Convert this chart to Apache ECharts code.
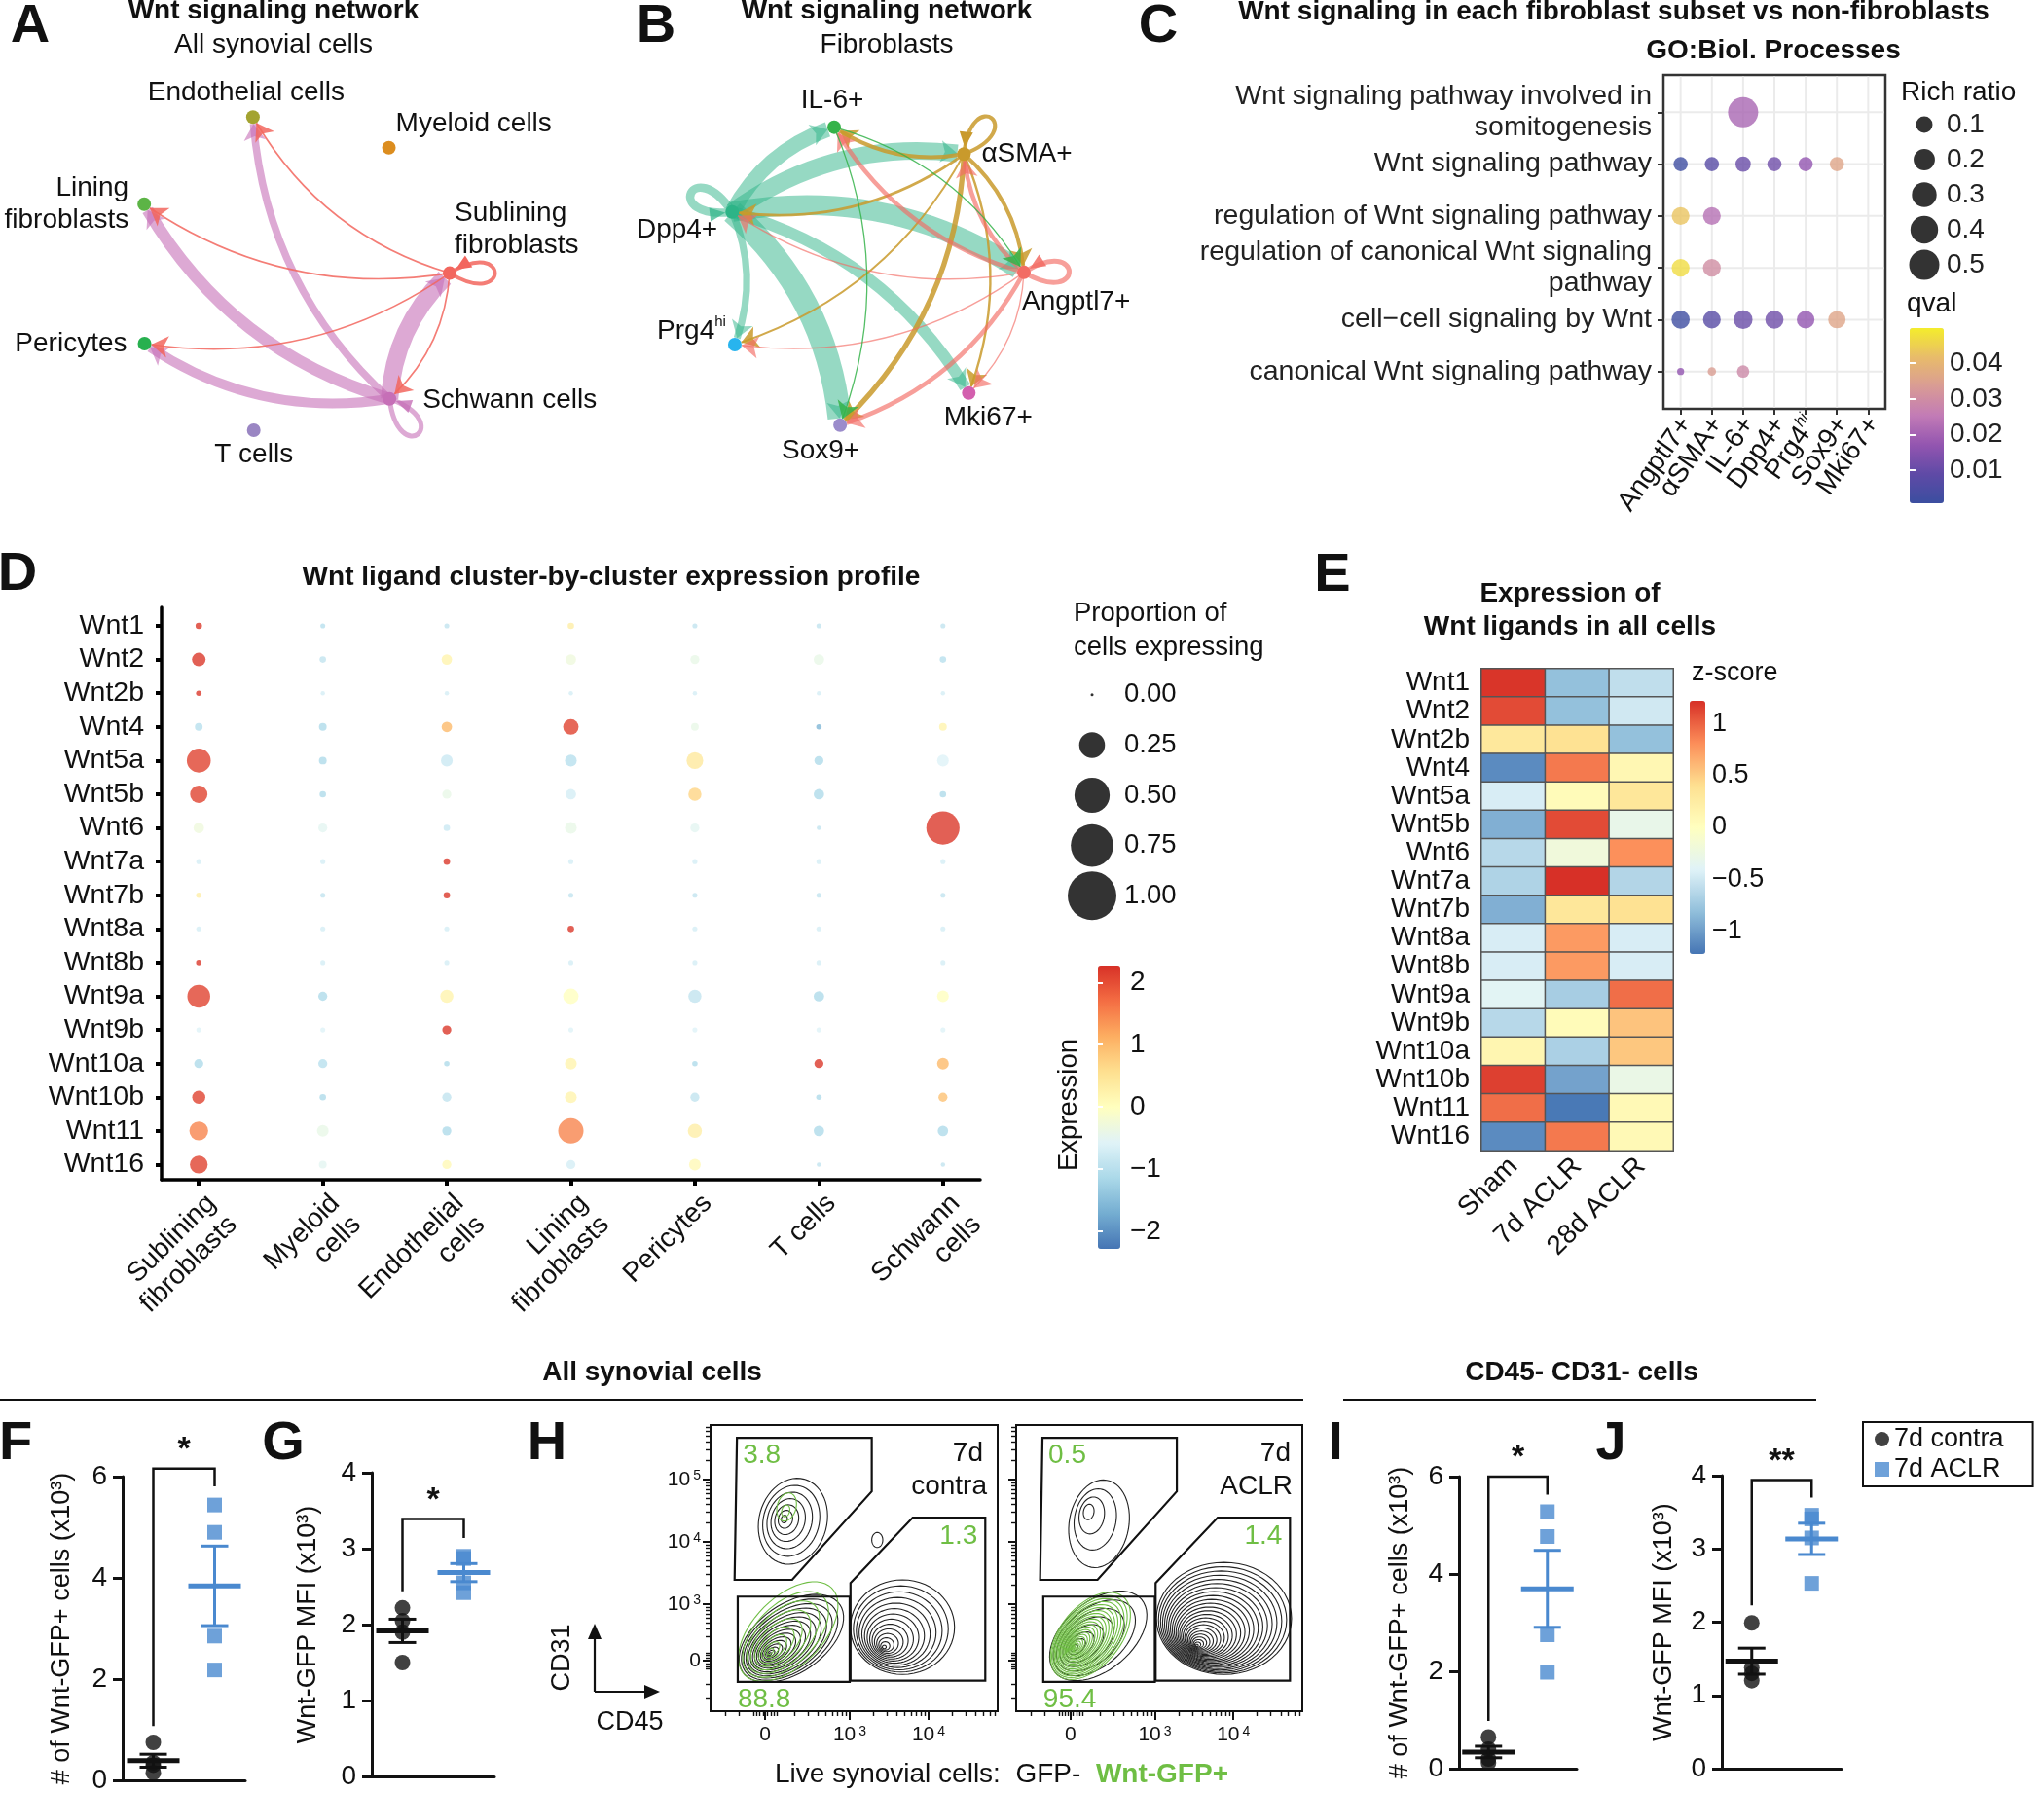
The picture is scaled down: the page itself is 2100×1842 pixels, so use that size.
<!DOCTYPE html>
<html>
<head>
<meta charset="utf-8">
<title>Wnt signaling figure</title>
<script src="https://cdn.jsdelivr.net/npm/echarts@6.0.0/dist/echarts.min.js"></script>
<style>
html,body{margin:0;padding:0;background:#ffffff;}
#chart{width:2100px;height:1842px;}
</style>
</head>
<body>
<div id="chart"></div>
<script>
// ========================= DATA =========================
// ---- Panel A : Wnt network, all synovial cells (source, target, relative strength)
const netA_nodes = ['Endothelial cells','Myeloid cells','Sublining fibroblasts','Schwann cells','T cells','Pericytes','Lining fibroblasts'];
const netA_links = [
  ['Schwann cells','Sublining fibroblasts',1.0],
  ['Schwann cells','Lining fibroblasts',0.68],
  ['Schwann cells','Pericytes',0.56],
  ['Schwann cells','Endothelial cells',0.42],
  ['Sublining fibroblasts','Endothelial cells',0.09],
  ['Sublining fibroblasts','Lining fibroblasts',0.09],
  ['Sublining fibroblasts','Pericytes',0.09],
  ['Sublining fibroblasts','Schwann cells',0.09]
];
const netA_loops = [['Sublining fibroblasts',0.22],['Schwann cells',0.28]];

// ---- Panel B : Wnt network, fibroblast subsets
const netB_nodes = ['IL-6+','αSMA+','Angptl7+','Mki67+','Sox9+','Prg4hi','Dpp4+'];
const netB_links = [
  ['Dpp4+','Sox9+',1.0],['Dpp4+','Angptl7+',0.85],['Dpp4+','αSMA+',0.75],['Dpp4+','IL-6+',0.65],['Dpp4+','Mki67+',0.5],['Dpp4+','Prg4hi',0.3],
  ['αSMA+','Sox9+',0.22],['αSMA+','IL-6+',0.17],['αSMA+','Angptl7+',0.17],['αSMA+','Dpp4+',0.12],['αSMA+','Mki67+',0.1],['αSMA+','Prg4hi',0.08],
  ['Angptl7+','IL-6+',0.19],['Angptl7+','αSMA+',0.19],['Angptl7+','Sox9+',0.19],['Angptl7+','Dpp4+',0.06],['Angptl7+','Prg4hi',0.05],['Angptl7+','Mki67+',0.05],
  ['IL-6+','Sox9+',0.05],['IL-6+','Angptl7+',0.05]
];
const netB_loops = [['Dpp4+',0.36],['αSMA+',0.17],['Angptl7+',0.21]];

// ---- Panel C : GO enrichment dot plot
const goTerms = [
  'Wnt signaling pathway involved in\nsomitogenesis',
  'Wnt signaling pathway',
  'regulation of Wnt signaling pathway',
  'regulation of canonical Wnt signaling\npathway',
  'cell\u2212cell signaling by Wnt',
  'canonical Wnt signaling pathway'
];
const goSubsets = ['Angptl7+','αSMA+','IL-6+','Dpp4+','Prg4hi','Sox9+','Mki67+'];
// [subset, term index, rich ratio, qval]
const goDots = [
  ['IL-6+',0,0.5,0.021],
  ['Angptl7+',1,0.066,0.0015],['αSMA+',1,0.066,0.007],['IL-6+',1,0.08,0.0105],['Dpp4+',1,0.066,0.0115],['Prg4hi',1,0.066,0.017],['Sox9+',1,0.066,0.036],
  ['Angptl7+',2,0.123,0.043],['αSMA+',2,0.123,0.023],
  ['Angptl7+',3,0.123,0.047],['αSMA+',3,0.123,0.030],
  ['Angptl7+',4,0.13,0.0015],['αSMA+',4,0.12,0.007],['IL-6+',4,0.143,0.0105],['Dpp4+',4,0.13,0.0115],['Prg4hi',4,0.12,0.017],['Sox9+',4,0.115,0.036],
  ['Angptl7+',5,0.0196,0.017],['αSMA+',5,0.021,0.034],['IL-6+',5,0.045,0.029]
];
const richLegend = [0.1,0.2,0.3,0.4,0.5];
const qvalTicks = [0.01,0.02,0.03,0.04];

// ---- Panel D : Wnt ligand dot plot (proportion expressing, scaled expression)
const wntGenes = ['Wnt1','Wnt2','Wnt2b','Wnt4','Wnt5a','Wnt5b','Wnt6','Wnt7a','Wnt7b','Wnt8a','Wnt8b','Wnt9a','Wnt9b','Wnt10a','Wnt10b','Wnt11','Wnt16'];
const dClusters = ['Sublining\nfibroblasts','Myeloid\ncells','Endothelial\ncells','Lining\nfibroblasts','Pericytes','T cells','Schwann\ncells'];
const dPct = [
  [0.006,0.002,0.002,0.006,0.002,0.002,0.002],
  [0.055,0.006,0.027,0.027,0.018,0.027,0.006],
  [0.003,0.001,0.001,0.001,0.001,0.001,0.001],
  [0.011,0.011,0.027,0.075,0.011,0.003,0.011],
  [0.21,0.011,0.037,0.037,0.09,0.018,0.037],
  [0.10,0.006,0.018,0.027,0.05,0.027,0.006],
  [0.027,0.018,0.006,0.037,0.018,0.001,0.44],
  [0.002,0.002,0.006,0.002,0.002,0.002,0.002],
  [0.003,0.002,0.006,0.002,0.002,0.002,0.002],
  [0.002,0.002,0.002,0.006,0.002,0.002,0.002],
  [0.003,0.002,0.002,0.002,0.002,0.002,0.002],
  [0.19,0.018,0.05,0.075,0.05,0.027,0.037],
  [0.002,0.002,0.018,0.002,0.002,0.002,0.002],
  [0.018,0.018,0.003,0.037,0.003,0.018,0.037],
  [0.05,0.006,0.018,0.037,0.018,0.003,0.018],
  [0.12,0.037,0.018,0.24,0.06,0.027,0.027],
  [0.105,0.011,0.018,0.018,0.037,0.001,0.001]
];
const dExpr = [
  [2.2,-1.0,-0.9,0.3,-0.9,-0.9,-0.9],
  [2.2,-0.9,0.2,-0.3,-0.4,-0.4,-1.0],
  [2.2,-0.7,-0.7,-0.7,-0.7,-0.7,-0.7],
  [-1.0,-1.1,1.0,2.1,-0.4,-1.6,0.2],
  [2.1,-1.1,-0.8,-1.0,0.4,-1.1,-0.6],
  [2.1,-1.1,-0.4,-0.7,0.7,-1.1,-1.1],
  [-0.3,-0.5,-0.8,-0.4,-0.5,-0.9,2.2],
  [-0.7,-0.7,2.2,-0.7,-0.7,-0.7,-0.7],
  [0.3,-0.9,2.2,-0.9,-0.9,-0.9,-0.9],
  [-0.7,-0.7,-0.7,2.2,-0.7,-0.7,-0.7],
  [2.2,-0.7,-0.7,-0.7,-0.7,-0.7,-0.7],
  [2.1,-1.1,0.2,0.0,-0.9,-1.1,0.0],
  [-0.6,-0.6,2.2,-0.6,-0.6,-0.6,-0.6],
  [-1.1,-1.0,-1.1,0.2,-1.1,2.2,1.0],
  [2.1,-1.1,-0.9,0.2,-0.9,-1.1,0.9],
  [1.5,-0.4,-1.1,1.5,0.3,-1.1,-1.1],
  [2.1,-0.5,0.1,-0.7,0.1,-0.9,-0.9]
];
const pctLegend = [0, 0.25, 0.5, 0.75, 1];
const exprTicks = [-2,-1,0,1,2];

// ---- Panel E : z-score heatmap
const eConds = ['Sham','7d ACLR','28d ACLR'];
const eZ = [
  [1.2,-0.8,-0.57],
  [1.1,-0.8,-0.49],
  [0.3,0.38,-0.8],
  [-1.1,0.9,0.1],
  [-0.45,0.05,0.32],
  [-0.9,1.1,-0.3],
  [-0.62,-0.2,0.8],
  [-0.66,1.22,-0.64],
  [-0.9,0.32,0.38],
  [-0.45,0.75,-0.45],
  [-0.45,0.75,-0.45],
  [-0.38,-0.7,0.95],
  [-0.62,0.05,0.55],
  [0.12,-0.68,0.53],
  [1.15,-0.97,-0.28],
  [0.95,-1.2,0.08],
  [-1.1,0.9,0.08]
];
const zTicks = [-1,-0.5,0,0.5,1];

// ---- Panels F, G, I, J : per-mouse values
const groups = ['7d contra','7d ACLR'];
const fContra = [0.75,0.35,0.3,0.15], fAclr = [5.44,4.9,2.85,2.18];
const gContra = [2.22,2.05,1.9,1.5],  gAclr = [2.9,2.87,2.55,2.42];
const iContra = [0.65,0.4,0.2,0.12],  iAclr = [5.28,4.77,2.75,1.98];
const jContra = [1.99,1.38,1.3,1.2],  jAclr = [3.46,3.41,3.15,2.53];
// significance brackets: [left foot, top, right foot]
const sigF = [1.07,6.16,5.81], sigG = [2.44,3.39,3.14], sigI = [0.98,6.0,5.63], sigJ = [2.23,3.94,3.7];
const starsF = '*', starsG = '*', starsI = '*', starsJ = '**';

// ---- Panel H : flow cytometry (axis units: decades, 0 on the biexponential scale)
const flowXRange = [1.235, 4.877];
const flowYRange = [1.28, 5.875];
const flowXTicks = [1.926, 3, 4];
const flowXTickText = ['0', '10{s|3}', '10{s|4}'];
const flowYTicks = [2.094, 3, 4, 5];
const flowYTickText = ['0', '10{s|3}', '10{s|4}', '10{s|5}'];
const gateUpper = [[1.57,5.67],[3.28,5.67],[3.28,4.81],[2.27,3.39],[1.54,3.39]];
const gateRight = [[3.01,3.34],[3.80,4.39],[4.72,4.39],[4.72,1.77],[3.01,1.77]];
const gateLower = [[1.58,3.12],[3.0,3.12],[3.0,1.75],[1.58,1.75]];
const pctContra = [3.8, 1.3, 88.8];   // upper, right, lower gate
const pctAclr = [0.5, 1.4, 95.4];
// populations: [outer cx, outer cy, core cx, core cy, rx, ry, tilt deg, contour levels]
const popsContraAll = [
  [2.28,4.33,2.16,4.37,0.43,0.70,-15,7],
  [3.35,4.03,3.35,4.03,0.07,0.12,0,1],
  [2.26,2.45,1.98,2.19,0.75,0.55,35,16],
  [3.67,2.63,3.43,2.30,0.66,0.76,0,14]
];
const popsContraGFP = [
  [2.22,2.56,1.98,2.22,0.78,0.55,45,9],
  [2.2,4.56,2.18,4.45,0.12,0.23,-15,2]
];
const popsAclrAll = [
  [2.29,4.29,2.13,4.52,0.38,0.71,-10,4],
  [2.28,2.49,1.95,2.28,0.72,0.55,40,8],
  [3.88,2.77,3.53,2.33,0.86,0.90,0,24]
];
const popsAclrGFP = [
  [2.18,2.49,1.97,2.3,0.65,0.48,50,22]
];

// ========================= STYLE / LAYOUT =========================
const FONT = "'Liberation Sans', Arial, Helvetica, sans-serif";
const INK = '#111111';
const BLUE = '#4a89cf';
const GREEN = '#6fbe44';

const colA = {'Endothelial cells':'#a3a331','Myeloid cells':'#dc8d1f','Sublining fibroblasts':'#f2665e','Schwann cells':'#c66fb7','T cells':'#9a86c3','Pericytes':'#27b04f','Lining fibroblasts':'#5cb446'};
const opA = {'Schwann cells':0.6,'Sublining fibroblasts':0.85};
const colB = {'IL-6+':'#35b34a','αSMA+':'#c99a2c','Angptl7+':'#f26c64','Mki67+':'#d35fae','Sox9+':'#9b8ccb','Prg4hi':'#28b4ee','Dpp4+':'#2db487'};
const opB = {'Dpp4+':0.5,'αSMA+':0.85,'Angptl7+':0.65,'IL-6+':0.85};

const labA = {
  'Endothelial cells': {t:'Endothelial cells', dx:-7, dy:-25, a:'center'},
  'Myeloid cells': {t:'Myeloid cells', dx:7, dy:-24, a:'left'},
  'Sublining fibroblasts': {t:'Sublining\nfibroblasts', dx:5, dy:-45, a:'left'},
  'Schwann cells': {t:'Schwann cells', dx:34, dy:2, a:'left'},
  'T cells': {t:'T cells', dx:0, dy:25, a:'center'},
  'Pericytes': {t:'Pericytes', dx:-18, dy:0, a:'right'},
  'Lining fibroblasts': {t:'Lining\nfibroblasts', dx:-16, dy:0, a:'right'}
};
const labB = {
  'IL-6+': {t:'IL-6+', dx:-2, dy:-27, a:'center'},
  'αSMA+': {t:'αSMA+', dx:18, dy:0, a:'left'},
  'Angptl7+': {t:'Angptl7+', dx:-2, dy:30, a:'left'},
  'Mki67+': {t:'Mki67+', dx:20, dy:26, a:'center'},
  'Sox9+': {t:'Sox9+', dx:-20, dy:27, a:'center'},
  'Prg4hi': {t:'Prg4{hi|hi}', dx:-9, dy:-14, a:'right'},
  'Dpp4+': {t:'Dpp4+', dx:-15, dy:19, a:'right'}
};

const qvalColors = ['#3b4ea0','#5f4aa6','#9355b0','#c27bb6','#d99b95','#e8bc6a','#f4ed2c'];
const exprColors = ['#4575b4','#74add1','#abd9e9','#e0f3f8','#ffffbf','#fee090','#fdae61','#f46d43','#d73027'];
const zColors = ['#4575b4','#91bfdb','#e0f3f8','#ffffbf','#fee090','#fc8d59','#d73027'];

const cSize = r => 7.3 + 23.7 * Math.sqrt(Math.max(0, r - 0.0196) / 0.4804);
const dSize = p => 3 + 47 * Math.sqrt(p);
const idx = n => Array.from({length:n}, (_, i) => i);
const nearest = (arr, v) => { let b = 0; arr.forEach((t, i) => { if (Math.abs(t - v) < Math.abs(arr[b] - v)) b = i; }); return b; };
const minusFmt = v => (v < 0 ? '\u2212' + String(Math.abs(v)) : String(v));

// ========================= BUILD =========================
const grids = [], xAxes = [], yAxes = [], series = [];
function addGrid(g) { grids.push(Object.assign({containLabel:false, outerBoundsMode:'none'}, g)); return grids.length - 1; }
function addX(a) { xAxes.push(a); return xAxes.length - 1; }
function addY(a) { yAxes.push(a); return yAxes.length - 1; }
function addS(s) { series.push(s); return series.length - 1; }
const HID = (gi, extra) => Object.assign({gridIndex:gi, type:'value', min:0, max:1, show:false}, extra || {});

// rotated category labels (top-right corner anchored under each tick, like ggplot hjust=1, vjust=1)
function rotLabelSeries(xi, yi, texts, yAtAxis, rotDeg, fontSize, lineHeight, dx, dy, rich) {
  return {type:'custom', xAxisIndex:xi, yAxisIndex:yi, silent:true, clip:false, z:5,
    data: texts.map((_, i) => [i, yAtAxis]),
    renderItem: function (params, api) {
      const p = api.coord([api.value(0), api.value(1)]);
      return {type:'text', x:p[0] + dx, y:p[1] + dy, rotation:rotDeg * Math.PI / 180,
        style:{text:texts[params.dataIndex], align:'right', verticalAlign:'top', font:fontSize + 'px ' + FONT,
          lineHeight:lineHeight, fill:INK, rich:rich}};
    }};
}

// ---- network builders
function netSeries(nodes, links, polarIndex, col, lab, wScale, opac) {
  return {
    type:'graph', coordinateSystem:'polar', polarIndex:polarIndex, layout:'none',
    symbol:'circle', symbolSize:14, roam:false, silent:true, z:3,
    edgeSymbol:['none','arrow'], edgeSymbolSize:[0,17],
    data: nodes.map((n, i) => {
      const L = lab[n];
      return {
        name:n, value:[1, i], itemStyle:{color:col[n]},
        label:{show:true, position:[7 + L.dx, 7 + L.dy], align:L.a, verticalAlign:'middle', formatter:L.t,
          fontSize:28, lineHeight:33, color:INK, fontFamily:FONT,
          rich:{hi:{fontSize:15, verticalAlign:'top', lineHeight:30, color:INK, fontFamily:FONT}}}
      };
    }),
    links: links.map(l => ({source:l[0], target:l[1],
      lineStyle:{color:col[l[0]], width:Math.max(1.3, l[2] * wScale), opacity:(opac[l[0]] || 0.75), curveness:0.2}}))
  };
}
function loopSeries(nodes, loops, polarIndex, col, wScale, opac) {
  return {
    type:'custom', coordinateSystem:'polar', polarIndex:polarIndex, silent:true, z:2,
    data: loops.map(l => [1, nodes.indexOf(l[0]), l[1]]),
    renderItem: function (params, api) {
      const n = loops[params.dataIndex][0];
      const p = api.coord([1, api.value(1)]);
      const c = api.coord([0, 0]);
      let ux = p[0] - c[0], uy = p[1] - c[1];
      const len = Math.hypot(ux, uy) || 1; ux /= len; uy /= len;
      const nx = -uy, ny = ux, a = 62, b = 38;
      const cp1 = [p[0] + a * ux + b * nx, p[1] + a * uy + b * ny];
      const cp2 = [p[0] + a * ux - b * nx, p[1] + a * uy - b * ny];
      let dx = p[0] - cp2[0], dy = p[1] - cp2[1];
      const dl = Math.hypot(dx, dy) || 1; dx /= dl; dy /= dl;
      const tip = [p[0] - dx * 7, p[1] - dy * 7];
      const base = [tip[0] - dx * 16, tip[1] - dy * 16];
      const tri = [tip, [base[0] - dy * 7, base[1] + dx * 7], [base[0] + dy * 7, base[1] - dx * 7]];
      const op = opac[n] || 0.75;
      return {type:'group', children:[
        {type:'bezierCurve', shape:{x1:p[0], y1:p[1], x2:p[0], y2:p[1], cpx1:cp1[0], cpy1:cp1[1], cpx2:cp2[0], cpy2:cp2[1]},
          style:{stroke:col[n], lineWidth:Math.max(1.5, api.value(2) * wScale), fill:'none', opacity:op}},
        {type:'polygon', shape:{points:tri}, style:{fill:col[n], opacity:Math.min(1, op + 0.2)}}
      ]};
    }
  };
}
addS(netSeries(netA_nodes, netA_links, 0, colA, labA, 18, opA));
addS(loopSeries(netA_nodes, netA_loops, 0, colA, 18, opA));
addS(netSeries(netB_nodes, netB_links, 1, colB, labB, 24, opB));
addS(loopSeries(netB_nodes, netB_loops, 1, colB, 24, opB));

// ---- Panel C
const C_YMIN = -0.72, C_YMAX = 5.72;
const gC = addGrid({left:1709, top:77, width:228, height:343, show:true, borderColor:'#333', borderWidth:2.5, backgroundColor:'#fff'});
const subsetLabel = i => { const s = goSubsets[i]; return s === 'Prg4hi' ? 'Prg4{hi|hi}' : s; };
const xC = addX({gridIndex:gC, type:'value', min:-0.55, max:6.55, axisLine:{show:false, onZero:false}, splitLine:{show:false},
  axisTick:{show:true, customValues:idx(goSubsets.length), length:6, lineStyle:{color:'#333', width:2}},
  axisLabel:{show:false}});
const yC = addY({gridIndex:gC, type:'value', inverse:true, min:C_YMIN, max:C_YMAX, axisLine:{show:false, onZero:false}, splitLine:{show:false},
  axisTick:{show:true, customValues:idx(goTerms.length), length:6, lineStyle:{color:'#333', width:2}},
  axisLabel:{show:true, customValues:idx(goTerms.length), formatter:v => goTerms[Math.round(v)], fontSize:28.5, lineHeight:32, color:'#222', margin:12,
    showMinLabel:true, showMaxLabel:true}});
addS({type:'custom', xAxisIndex:xC, yAxisIndex:yC, silent:true, z:1,
  data: idx(goSubsets.length).map(i => [i, 0, 0]).concat(idx(goTerms.length).map(j => [0, j, 1])),
  renderItem: function (params, api) {
    const cs = params.coordSys;
    const p = api.coord([api.value(0), api.value(1)]);
    const shape = api.value(2) === 0 ? {x1:p[0], y1:cs.y + 1.5, x2:p[0], y2:cs.y + cs.height - 1.5} : {x1:cs.x + 1.5, y1:p[1], x2:cs.x + cs.width - 1.5, y2:p[1]};
    return {type:'line', shape:shape, style:{stroke:'#ebebeb', lineWidth:2}};
  }});
const sC = addS({type:'scatter', xAxisIndex:xC, yAxisIndex:yC, z:3, silent:true,
  data: goDots.map(d => [goSubsets.indexOf(d[0]), d[1], d[2], d[3]]),
  symbolSize: v => cSize(v[2])});
addS(rotLabelSeries(xC, yC, idx(goSubsets.length).map(subsetLabel), C_YMAX, 55, 28, 32, -7, 2,
  {hi:{fontSize:16, verticalAlign:'top', fontStyle:'italic', fill:INK, lineHeight:32}}));
// C legends
const gCL = addGrid({left:1962, top:110, width:30, height:180});
const xCL = addX(HID(gCL, {min:-1, max:1}));
const yCL = addY({gridIndex:gCL, type:'category', inverse:true, data:richLegend.map(String), position:'right',
  axisLine:{show:false}, axisTick:{show:false}, splitLine:{show:false}, axisLabel:{interval:0, fontSize:28, color:'#222', margin:8}});
addS({type:'scatter', xAxisIndex:xCL, yAxisIndex:yCL, silent:true, data:richLegend.map((r, i) => [0, i, r]),
  symbolSize: v => cSize(v[2]), itemStyle:{color:'#000'}});
const gCQ = addGrid({left:1962, top:337, width:35, height:180});
addX(HID(gCQ));
addY({gridIndex:gCQ, type:'value', min:0.0007, max:0.0499, position:'right', z:10, axisLine:{show:false}, splitLine:{show:false},
  axisTick:{show:true, inside:true, length:7, customValues:qvalTicks, lineStyle:{color:'#fff', width:2}},
  axisLabel:{customValues:qvalTicks, formatter:v => v.toFixed(2), fontSize:28, color:'#222', margin:6}});
addY({gridIndex:gCQ, type:'value', min:0.0007, max:0.0499, position:'left', z:10, axisLine:{show:false}, splitLine:{show:false},
  axisTick:{show:true, inside:true, length:7, customValues:qvalTicks, lineStyle:{color:'#fff', width:2}}, axisLabel:{show:false}});

// ---- Panel D
const D_YMIN = -0.55, D_YMAX = 16.45;
const gD = addGrid({left:166, top:624, width:841, height:588});
const xD = addX({gridIndex:gD, type:'value', min:-0.3, max:6.3, axisLine:{show:true, onZero:false, lineStyle:{color:'#000', width:3.5}}, splitLine:{show:false},
  axisTick:{show:true, customValues:idx(dClusters.length), length:6, lineStyle:{color:'#000', width:4}},
  axisLabel:{show:false}});
const yD = addY({gridIndex:gD, type:'value', inverse:true, min:D_YMIN, max:D_YMAX, axisLine:{show:true, onZero:false, lineStyle:{color:'#000', width:3.5}}, splitLine:{show:false},
  axisTick:{show:true, customValues:idx(wntGenes.length), length:6, lineStyle:{color:'#000', width:4}},
  axisLabel:{show:true, customValues:idx(wntGenes.length), formatter:v => wntGenes[Math.round(v)], fontSize:28.5, color:INK, margin:18,
    showMinLabel:true, showMaxLabel:true}});
const sD = addS({type:'scatter', xAxisIndex:xD, yAxisIndex:yD, z:3, silent:true,
  data: dPct.flatMap((row, gi) => row.map((p, ci) => [ci, gi, p, dExpr[gi][ci]])),
  symbolSize: v => dSize(v[2])});
addS(rotLabelSeries(xD, yD, dClusters, D_YMAX, 45, 28, 31, 2, 9));
const gDL = addGrid({left:1100, top:688, width:44, height:258});
const xDL = addX(HID(gDL, {min:-1, max:1}));
const yDL = addY({gridIndex:gDL, type:'category', inverse:true, data:pctLegend.map(p => p.toFixed(2)), position:'right',
  axisLine:{show:false}, axisTick:{show:false}, splitLine:{show:false}, axisLabel:{interval:0, fontSize:27.5, color:INK, margin:11}});
addS({type:'scatter', xAxisIndex:xDL, yAxisIndex:yDL, silent:true, data:pctLegend.map((p, i) => [0, i, p]),
  symbolSize: v => dSize(v[2]), itemStyle:{color:'#000'}});
const gDC = addGrid({left:1128, top:992, width:23, height:291});
addX(HID(gDC));
addY({gridIndex:gDC, type:'value', min:-2.28, max:2.27, position:'right', z:10, axisLine:{show:false}, splitLine:{show:false},
  axisTick:{show:true, inside:true, length:5, customValues:exprTicks, lineStyle:{color:'#fff', width:2}},
  axisLabel:{customValues:exprTicks, formatter:minusFmt, fontSize:28, color:INK, margin:10}});
addY({gridIndex:gDC, type:'value', min:-2.28, max:2.27, position:'left', z:10, axisLine:{show:false}, splitLine:{show:false},
  axisTick:{show:true, inside:true, length:5, customValues:exprTicks, lineStyle:{color:'#fff', width:2}}, axisLabel:{show:false}});

// ---- Panel E
const gE = addGrid({left:1522, top:687, width:197, height:495});
const xE = addX({gridIndex:gE, type:'category', data:eConds, axisLine:{show:false}, axisTick:{show:false}, splitLine:{show:false},
  axisLabel:{interval:0, rotate:45, fontSize:28, color:INK, margin:12, padding:[31,0,0,0]}});
const yE = addY({gridIndex:gE, type:'category', data:wntGenes, inverse:true, axisLine:{show:false}, axisTick:{show:false}, splitLine:{show:false},
  axisLabel:{interval:0, fontSize:28, color:INK, margin:12}});
const sE = addS({type:'heatmap', xAxisIndex:xE, yAxisIndex:yE, silent:true,
  data: eZ.flatMap((row, gi) => row.map((z, ci) => [ci, gi, z])),
  itemStyle:{borderColor:'#555', borderWidth:1.5}});
const gEC = addGrid({left:1736, top:720, width:16, height:260});
addX(HID(gEC));
addY({gridIndex:gEC, type:'value', min:-1.22, max:1.22, position:'right', z:10, axisLine:{show:false}, splitLine:{show:false},
  axisTick:{show:false}, axisLabel:{customValues:zTicks, formatter:minusFmt, fontSize:27, color:INK, margin:7}});

// ---- Panels F, G, I, J
const mean = a => a.reduce((s, v) => s + v, 0) / a.length;
const sem = a => { const m = mean(a); return Math.sqrt(a.reduce((s, v) => s + (v - m) * (v - m), 0) / (a.length - 1)) / Math.sqrt(a.length); };
function meanSemRender(params, api) {
  const x = api.value(0), mu = api.value(1), se = api.value(2);
  const c = api.coord([x, mu]), hi = api.coord([x, mu + se]), lo = api.coord([x, mu - se]);
  const col = x === 0 ? INK : BLUE;
  return {type:'group', children:[
    {type:'line', shape:{x1:c[0] - 27, y1:c[1], x2:c[0] + 27, y2:c[1]}, style:{stroke:col, lineWidth:5}},
    {type:'line', shape:{x1:c[0], y1:hi[1], x2:c[0], y2:lo[1]}, style:{stroke:col, lineWidth:3}},
    {type:'line', shape:{x1:c[0] - 14, y1:hi[1], x2:c[0] + 14, y2:hi[1]}, style:{stroke:col, lineWidth:3}},
    {type:'line', shape:{x1:c[0] - 14, y1:lo[1], x2:c[0] + 14, y2:lo[1]}, style:{stroke:col, lineWidth:3}}
  ]};
}
function dotPanel(grid, ymax, yint, yname, nameGap, contra, aclr, sig, stars) {
  const g = addGrid(grid);
  const xi = addX({gridIndex:g, type:'category', data:groups, axisLine:{show:true, lineStyle:{color:INK, width:3}}, axisTick:{show:false}, axisLabel:{show:false}, splitLine:{show:false}});
  const yi = addY({gridIndex:g, type:'value', min:0, max:ymax, interval:yint, axisLine:{show:true, lineStyle:{color:INK, width:3}},
    axisTick:{show:true, length:10, lineStyle:{color:INK, width:3}}, splitLine:{show:false},
    axisLabel:{fontSize:28, color:INK, margin:16},
    name:yname, nameLocation:'middle', nameRotate:90, nameGap:nameGap, nameTextStyle:{fontSize:27, color:INK, fontFamily:FONT}});
  addS({type:'scatter', name:groups[0], xAxisIndex:xi, yAxisIndex:yi, silent:true, z:3, symbol:'circle', symbolSize:16, itemStyle:{color:INK}, data:contra.map(v => [0, v])});
  addS({type:'scatter', name:groups[1], xAxisIndex:xi, yAxisIndex:yi, silent:true, z:3, symbol:'rect', symbolSize:15, itemStyle:{color:BLUE}, data:aclr.map(v => [1, v])});
  addS({type:'custom', xAxisIndex:xi, yAxisIndex:yi, silent:true, z:4, data:[[0, mean(contra), sem(contra)], [1, mean(aclr), sem(aclr)]], renderItem:meanSemRender});
  addS({type:'custom', xAxisIndex:xi, yAxisIndex:yi, silent:true, z:4, clip:false, data:[[0, sig[0], sig[1], sig[2]]],
    renderItem: function (params, api) {
      const a = api.coord([0, api.value(1)]), t0 = api.coord([0, api.value(2)]), t1 = api.coord([1, api.value(2)]), b = api.coord([1, api.value(3)]);
      return {type:'group', children:[
        {type:'polyline', shape:{points:[a, t0, t1, b]}, style:{stroke:INK, lineWidth:2.5, fill:'none'}},
        {type:'text', style:{text:stars, x:(t0[0] + t1[0]) / 2, y:t0[1] - 2, align:'center', verticalAlign:'bottom', font:'bold 34px ' + FONT, fill:INK}}
      ]};
    }});
}
dotPanel({left:126, top:1517, width:126, height:312}, 6, 2, '# of Wnt-GFP+ cells (x10\u00b3)', 49, fContra, fAclr, sigF, starsF);
dotPanel({left:382, top:1513, width:126, height:312}, 4, 1, 'Wnt-GFP MFI (x10\u00b3)', 52, gContra, gAclr, sigG, starsG);
dotPanel({left:1499, top:1517, width:121, height:300}, 6, 2, '# of Wnt-GFP+ cells (x10\u00b3)', 47, iContra, iAclr, sigI, starsI);
dotPanel({left:1769, top:1516, width:123, height:301}, 4, 1, 'Wnt-GFP MFI (x10\u00b3)', 46, jContra, jAclr, sigJ, starsJ);

// ---- Panel H
function logMinor(decades, lo, hi) {
  const out = [];
  decades.forEach(d => { for (let m = 2; m <= 9; m++) { const v = d + Math.log10(m); if (v > lo && v < hi) out.push(v); } });
  return out;
}
const flowXMinor = [1.42, 1.6, 1.78, 1.82, 1.86, 1.9, 1.96, 2.0, 2.04, 2.08].concat(logMinor([2, 3, 4], 2.25, 4.87));
const flowYMinor = [1.5, 1.72, 1.96, 2.0, 2.04, 2.14, 2.18, 2.22].concat(logMinor([2, 3, 4, 5], 2.4, 5.87));
const supRich = {s:{fontSize:14, verticalAlign:'top', padding:[0,0,0,3], color:INK}};
function flowPanel(grid, showYLabels, popsAll, popsGFP, pcts) {
  const g = addGrid(Object.assign({show:true, borderColor:INK, borderWidth:2, backgroundColor:'transparent'}, grid));
  const xMaj = addX({gridIndex:g, type:'value', position:'bottom', min:flowXRange[0], max:flowXRange[1], axisLine:{show:false, onZero:false}, splitLine:{show:false},
    axisTick:{show:true, customValues:flowXTicks, length:9, lineStyle:{color:INK, width:2}},
    axisLabel:{show:true, customValues:flowXTicks, formatter:v => flowXTickText[nearest(flowXTicks, v)], fontSize:21, color:INK, margin:14, rich:supRich,
      showMinLabel:true, showMaxLabel:true}});
  addX({gridIndex:g, type:'value', position:'bottom', min:flowXRange[0], max:flowXRange[1], axisLine:{show:false, onZero:false}, splitLine:{show:false},
    axisTick:{show:true, customValues:flowXMinor, length:5, lineStyle:{color:INK, width:1.4}}, axisLabel:{show:false}});
  const yMaj = addY({gridIndex:g, type:'value', position:'left', min:flowYRange[0], max:flowYRange[1], axisLine:{show:false, onZero:false}, splitLine:{show:false},
    axisTick:{show:true, customValues:flowYTicks, length:8, lineStyle:{color:INK, width:2}},
    axisLabel:{show:showYLabels, customValues:flowYTicks, formatter:v => flowYTickText[nearest(flowYTicks, v)], fontSize:21, color:INK, margin:10, rich:supRich,
      showMinLabel:true, showMaxLabel:true}});
  addY({gridIndex:g, type:'value', position:'left', min:flowYRange[0], max:flowYRange[1], axisLine:{show:false, onZero:false}, splitLine:{show:false},
    axisTick:{show:true, customValues:flowYMinor, length:5, lineStyle:{color:INK, width:1.4}}, axisLabel:{show:false}});
  const contour = (color, lw) => function (params, api) {
    const ox = api.value(0), oy = api.value(1), cx = api.value(2), cy = api.value(3), rx = api.value(4), ry = api.value(5);
    const tilt = api.value(6) * Math.PI / 180, n = api.value(7);
    const children = [];
    for (let k = 1; k <= n; k++) {
      const s = Math.pow(k / n, 1.25);
      const c = api.coord([cx + (ox - cx) * s, cy + (oy - cy) * s]);
      const sz = api.size([rx * s, ry * s], [cx, cy]);
      const pts = [];
      for (let j = 0; j < 56; j++) {
        const th = j / 56 * 2 * Math.PI;
        const lx = sz[0] * Math.cos(th), ly = sz[1] * Math.sin(th);
        pts.push([c[0] + lx * Math.cos(tilt) - ly * Math.sin(tilt), c[1] - (lx * Math.sin(tilt) + ly * Math.cos(tilt))]);
      }
      children.push({type:'polygon', shape:{points:pts}, style:{fill:'none', stroke:color, lineWidth:lw}});
    }
    return {type:'group', children:children};
  };
  addS({type:'custom', xAxisIndex:xMaj, yAxisIndex:yMaj, silent:true, z:2, data:popsAll, renderItem:contour('#222222', 1.1)});
  addS({type:'custom', xAxisIndex:xMaj, yAxisIndex:yMaj, silent:true, z:3, data:popsGFP, renderItem:contour(GREEN, 1.1)});
  const gates = [gateUpper, gateRight, gateLower];
  addS({type:'custom', xAxisIndex:xMaj, yAxisIndex:yMaj, silent:true, z:5, clip:false,
    data: gates.map((gt, i) => [gt[0][0], gt[0][1], i]),
    renderItem: function (params, api) {
      const i = params.dataIndex;
      const pts = gates[i].map(p => api.coord(p));
      let tx, ty, al;
      if (i === 0) { tx = pts[0][0] + 6; ty = pts[0][1] + 4; al = 'left'; }
      else if (i === 1) { tx = pts[2][0] - 8; ty = pts[2][1] + 5; al = 'right'; }
      else { tx = pts[3][0]; ty = pts[3][1] + 4; al = 'left'; }
      return {type:'group', children:[
        {type:'polygon', shape:{points:pts}, style:{fill:'none', stroke:INK, lineWidth:2.2}},
        {type:'text', style:{text:String(pcts[i]), x:tx, y:ty, align:al, verticalAlign:'top', font:'28px ' + FONT, fill:GREEN}}
      ]};
    }});
}
flowPanel({left:730, top:1464, width:295, height:294}, true, popsContraAll, popsContraGFP, pctContra);
flowPanel({left:1044, top:1464, width:294, height:294}, false, popsAclrAll, popsAclrGFP, pctAclr);

// ---- static text / decorations
function T(x, y, text, o) {
  o = o || {};
  return {type:'text', x:x, y:y, rotation:o.rot || 0, silent:true, z:100,
    style:{text:text, fill:o.color || INK, font:(o.bold ? 'bold ' : '') + (o.size || 28) + 'px ' + FONT,
      align:o.align || 'center', verticalAlign:o.va || 'middle', rich:o.rich}};
}
function L(x1, y1, x2, y2, w) { return {type:'line', silent:true, z:100, shape:{x1:x1, y1:y1, x2:x2, y2:y2}, style:{stroke:INK, lineWidth:w || 2}}; }
function Tri(pts) { return {type:'polygon', silent:true, z:100, shape:{points:pts}, style:{fill:INK}}; }
const LET = {bold:true, size:56};
const graphics = [
  T(31, 28, 'A', LET), T(674, 28, 'B', LET), T(1190, 28, 'C', LET), T(18, 591, 'D', LET), T(1369, 592, 'E', LET),
  T(16, 1484, 'F', LET), T(291, 1484, 'G', LET), T(562, 1484, 'H', LET), T(1372, 1484, 'I', LET), T(1655, 1484, 'J', LET),
  T(281, 11, 'Wnt signaling network', {bold:true}), T(281, 46, 'All synovial cells'),
  T(911, 11, 'Wnt signaling network', {bold:true}), T(911, 46, 'Fibroblasts'),
  T(1658, 12, 'Wnt signaling in each fibroblast subset vs non-fibroblasts', {bold:true}),
  T(1822, 52, 'GO:Biol. Processes', {bold:true}),
  T(1953, 95, 'Rich ratio', {align:'left'}), T(1959, 312, 'qval', {align:'left'}),
  T(628, 593, 'Wnt ligand cluster-by-cluster expression profile', {bold:true}),
  T(1103, 630, 'Proportion of', {align:'left', size:27.5}), T(1103, 665, 'cells expressing', {align:'left', size:27.5}),
  T(1098, 1135, 'Expression', {rot:Math.PI / 2, size:27.5}),
  T(1613, 610, 'Expression of', {bold:true}), T(1613, 644, 'Wnt ligands in all cells', {bold:true}),
  T(1738, 692, 'z-score', {align:'left', size:27}),
  T(670, 1410, 'All synovial cells', {bold:true}), L(0, 1438, 1339, 1438, 2),
  T(1625, 1410, 'CD45- CD31- cells', {bold:true}), L(1380, 1438, 1866, 1438, 2),
  T(578, 1703, 'CD31', {rot:Math.PI / 2, size:27}), T(647, 1770, 'CD45', {size:27}),
  L(611, 1738, 611, 1680, 2.2), Tri([[611, 1668], [604, 1684], [618, 1684]]),
  L(611, 1738, 666, 1738, 2.2), Tri([[678, 1738], [662, 1731], [662, 1745]]),
  T(1010, 1493, '7d', {align:'right'}), T(1014, 1527, 'contra', {align:'right'}),
  T(1326, 1493, '7d', {align:'right'}), T(1328, 1527, 'ACLR', {align:'right'}),
  T(1029, 1823, '{a|Live synovial cells:  GFP-  }{g|Wnt-GFP+}', {rich:{
    a:{fontSize:28, fontFamily:FONT, fill:INK, color:INK},
    g:{fontSize:28, fontFamily:FONT, fontWeight:'bold', fill:GREEN, color:GREEN}}})
];

// ========================= OPTION =========================
const option = {
  animation:false,
  backgroundColor:'#ffffff',
  textStyle:{fontFamily:FONT, color:INK},
  tooltip:{show:false},
  polar:[{center:[297, 281], radius:165}, {center:[895, 283], radius:157}],
  angleAxis:[
    {polarIndex:0, type:'value', min:0, max:7, startAngle:103, clockwise:true, show:false},
    {polarIndex:1, type:'value', min:0, max:7, startAngle:104, clockwise:true, show:false}
  ],
  radiusAxis:[
    {polarIndex:0, type:'value', min:0, max:1, show:false},
    {polarIndex:1, type:'value', min:0, max:1, show:false}
  ],
  grid:grids, xAxis:xAxes, yAxis:yAxes,
  visualMap:[
    {type:'continuous', seriesIndex:sC, dimension:3, min:0.0007, max:0.0499, inRange:{color:qvalColors}, orient:'vertical',
      left:1962, top:337, itemWidth:35, itemHeight:180, padding:0, calculable:false, hoverLink:false},
    {type:'continuous', seriesIndex:sD, dimension:3, min:-2.28, max:2.27, inRange:{color:exprColors}, orient:'vertical',
      left:1128, top:992, itemWidth:23, itemHeight:291, padding:0, calculable:false, hoverLink:false},
    {type:'continuous', seriesIndex:sE, dimension:2, min:-1.22, max:1.22, inRange:{color:zColors}, orient:'vertical',
      left:1736, top:720, itemWidth:16, itemHeight:260, padding:0, calculable:false, hoverLink:false}
  ],
  legend:{show:true, data:[{name:'7d contra', icon:'circle'}, {name:'7d ACLR', icon:'rect'}], orient:'vertical',
    left:1914, top:1461, itemWidth:15, itemHeight:15, itemGap:4, padding:[4, 30, 4, 12], borderColor:INK, borderWidth:2,
    backgroundColor:'#fff', selectedMode:false, textStyle:{fontSize:27, color:INK, fontFamily:FONT}},
  graphic:graphics,
  series:series
};
const chart = echarts.init(document.getElementById('chart'), null, {width:2100, height:1842, renderer:'canvas'});
chart.setOption(option);
</script>
</body>
</html>
